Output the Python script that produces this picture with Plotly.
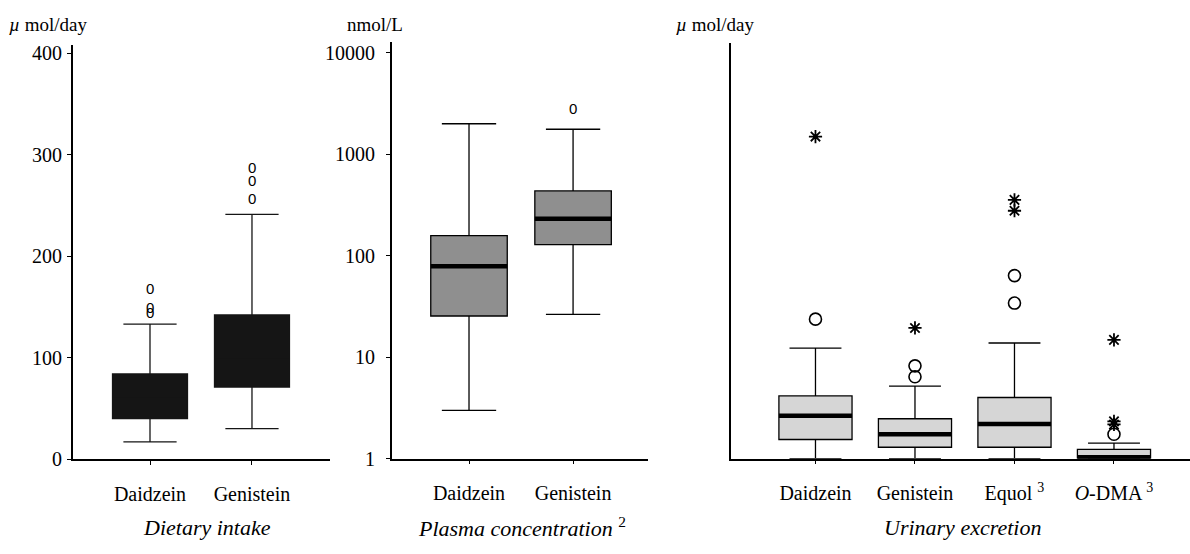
import math
import plotly.graph_objects as go

W, H = 1190, 554

# ---------------- data ----------------
diet_cats = ["Daidzein", "Genistein"]
diet_lower = [17, 30]
diet_q1 = [40, 71]
diet_median = [60, 100]
diet_q3 = [84, 142]
diet_upper = [133, 241]
diet_out_daidzein = [144, 149, 168]
diet_out_genistein = [257, 274, 287]

plasma_cats = ["Daidzein", "Genistein"]
plasma_lower = [3.0, 26.5]
plasma_q1 = [25.5, 129]
plasma_median = [79, 231]
plasma_q3 = [158, 436]
plasma_upper = [2000, 1766]
plasma_out_genistein = [2830]

urine_cats = ["Daidzein", "Genistein", "Equol <sup>3</sup>", "<i>O</i>-DMA <sup>3</sup>"]
urine_lower = [0, 0, 0, 0]
urine_q1 = [3.7, 2.2, 2.2, 0.1]
urine_median = [8.3, 4.7, 6.7, 0.3]
urine_q3 = [12.1, 7.7, 11.8, 1.8]
urine_upper = [21.3, 14.0, 22.3, 3.0]
urine_circles = [[26.9], [15.8, 17.9], [30.0, 35.3], [4.7]]
urine_stars = [[62.1], [25.2], [47.8, 49.9], [6.6, 7.2, 22.9]]

diet_ticks = [0, 100, 200, 300, 400]
plasma_ticks = [1, 10, 100, 1000, 10000]

# ---------------- helpers ----------------
def xd(px):
    return px / W

def yd(px):
    return 1 - px / H

SERIF = "Liberation Serif"
BOXW = 0.735
fig = go.Figure()


def add_box(xs, lo, q1, med, q3, hi, fill, xa, ya, linecolor="black"):
    fig.add_trace(go.Box(
        x=xs, lowerfence=lo, q1=q1, median=med, q3=q3, upperfence=hi,
        width=BOXW, whiskerwidth=0.71, fillcolor=fill,
        line=dict(color=linecolor, width=1.3), boxpoints=False,
        xaxis=xa, yaxis=ya, showlegend=False, hoverinfo="skip"))


def add_median(xs, med, xa, ya):
    mx, my = [], []
    for x, m in zip(xs, med):
        mx += [x - BOXW / 2, x + BOXW / 2, None]
        my += [m, m, None]
    fig.add_trace(go.Scatter(x=mx, y=my, mode="lines",
                             line=dict(color="black", width=4.5),
                             xaxis=xa, yaxis=ya, showlegend=False, hoverinfo="skip"))


def add_zero_outliers(x, vals, xa, ya, log=False):
    for v in vals:
        fig.add_annotation(x=x, y=(math.log10(v) if log else v), xref=xa, yref=ya,
                           text="0", showarrow=False, xanchor="center", yanchor="middle",
                           font=dict(family="Liberation Sans", size=15, color="black"))


# Panel 1: dietary intake (dark boxes, median not distinguishable)
x1 = list(range(len(diet_cats)))
add_box(x1, diet_lower, diet_q1, diet_median, diet_q3, diet_upper, "#151515", "x", "y",
        linecolor="#151515")
add_zero_outliers(0, diet_out_daidzein, "x", "y")
add_zero_outliers(1, diet_out_genistein, "x", "y")

# Panel 2: plasma concentration
x2 = list(range(len(plasma_cats)))
add_box(x2, plasma_lower, plasma_q1, plasma_median, plasma_q3, plasma_upper, "#8f8f8f", "x2", "y2")
add_median(x2, plasma_median, "x2", "y2")
add_zero_outliers(1, plasma_out_genistein, "x2", "y2", log=True)

# Panel 3: urinary excretion
x3 = list(range(len(urine_cats)))
add_box(x3, urine_lower, urine_q1, urine_median, urine_q3, urine_upper, "#d6d6d6", "x3", "y3")
add_median(x3, urine_median, "x3", "y3")
cx, cy, sx, sy = [], [], [], []
for i in x3:
    cx += [i] * len(urine_circles[i]); cy += urine_circles[i]
    sx += [i] * len(urine_stars[i]); sy += urine_stars[i]
fig.add_trace(go.Scatter(x=cx, y=cy, mode="markers",
                         marker=dict(symbol="circle-open", size=12, color="black", line=dict(width=1.6)),
                         xaxis="x3", yaxis="y3", showlegend=False, hoverinfo="skip"))
fig.add_trace(go.Scatter(x=sx, y=sy, mode="markers",
                         marker=dict(symbol="asterisk-open", size=11, color="black", line=dict(width=1.8, color="black")),
                         xaxis="x3", yaxis="y3", showlegend=False, hoverinfo="skip"))

tickfont = dict(family=SERIF, size=20, color="black")
common_x = dict(showline=True, linecolor="black", linewidth=1.6, ticks="outside", ticklen=4,
                tickcolor="black", tickwidth=1.3, showgrid=False, zeroline=False,
                tickfont=dict(family=SERIF, size=20, color="black"), ticklabelstandoff=12)
common_y = dict(showline=True, linecolor="black", linewidth=1.8, showgrid=False, zeroline=False,
                tickfont=tickfont)

fig.update_layout(
    width=W, height=H, margin=dict(l=0, r=0, t=0, b=0),
    paper_bgcolor="white", plot_bgcolor="white", hovermode=False,
    xaxis=dict(domain=[xd(73), xd(330)], range=[-0.755, 1.765], tickvals=x1, ticktext=diet_cats,
               anchor="y", **common_x),
    yaxis=dict(domain=[yd(468), yd(43)], range=[0, 408], tickvals=diet_ticks,
               ticktext=[str(v) for v in diet_ticks], ticks="outside", ticklen=4,
               tickcolor="black", ticklabelstandoff=1, anchor="x", **common_y),
    xaxis2=dict(domain=[xd(392), xd(648)], range=[-0.74, 1.72], tickvals=x2, ticktext=plasma_cats,
                anchor="y2", **common_x),
    yaxis2=dict(domain=[yd(467.5), yd(40)], type="log", range=[0, 4.107], tickvals=plasma_ticks,
                ticktext=[str(v) for v in plasma_ticks], ticks="outside", ticklen=4,
                tickcolor="black", ticklabelstandoff=7, anchor="x2", **common_y),
    xaxis3=dict(domain=[xd(731), 1.0], range=[-0.849, 3.764], tickvals=x3, ticktext=urine_cats,
                anchor="y3", **common_x),
    yaxis3=dict(domain=[yd(467.5), yd(40.7)], range=[0, 80.2], showticklabels=False, ticks="",
                anchor="x3", **common_y),
)

annots = [
    ("<i>µ</i> mol/day", 48, 22, 19),
    ("nmol/L", 374.5, 22, 19),
    ("<i>µ</i> mol/day", 714.5, 22, 19),
    ("<i>Dietary intake</i>", 206.7, 538, 22),
    ("<i>Plasma concentration</i> <sup>2</sup>", 522, 538, 22),
    ("<i>Urinary excretion</i>", 962.5, 538, 22),
]
for text, px, py, fs in annots:
    fig.add_annotation(text=text, x=xd(px), y=yd(py), xref="paper", yref="paper",
                       xanchor="center", yanchor="middle", showarrow=False,
                       font=dict(family=SERIF, size=fs, color="black"))

fig.write_html("out.html", config={"displayModeBar": False},
               post_script="document.body.style.margin='0px';")
